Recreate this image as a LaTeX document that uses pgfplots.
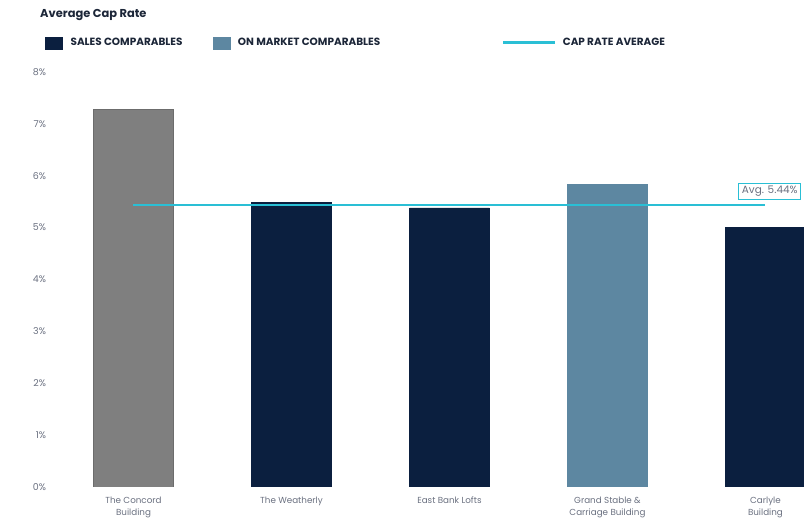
\documentclass[border=0pt]{standalone}
\usepackage{pgfplots}
\pgfplotsset{compat=1.18}
\usepackage{fontspec}
\setmainfont{Poppins}
\definecolor{navy}{HTML}{0B1F3F}
\definecolor{steel}{HTML}{5D87A1}
\definecolor{gbar}{HTML}{7F7F7F}
\definecolor{cyanl}{HTML}{2ABFD5}
\definecolor{ttl}{HTML}{1C2638}
\definecolor{tick}{HTML}{6A7080}
\begin{document}
\begin{tikzpicture}
\useasboundingbox (0,0) rectangle (804bp,523bp);
\node[anchor=west, inner sep=0pt, font=\fontsize{11.5}{13}\selectfont\bfseries, text=ttl] at (40bp,507.5bp) {Average Cap Rate};
\begin{axis}[
  at={(54.5bp,36bp)}, anchor=south west,
  scale only axis, width=749.5bp, height=415bp,
  xmin=-0.5, xmax=4.244, ymin=0, ymax=8,
  axis line style={draw=none},
  major tick length=0pt,
  ytick={0,1,...,8},
  yticklabel={\pgfmathprintnumber{\tick}\%},
  /pgf/number format/assume math mode=true,
  yticklabel style={font=\fontsize{9.5}{10}\selectfont, text=tick, xshift=-5bp},
  xtick={0,1,2,3,4},
  xticklabels={{The Concord\\Building},{The Weatherly},{East Bank Lofts},{Grand Stable \&\\Carriage Building},{Carlyle\\Building}},
  xticklabel style={font=\fontsize{8.8}{13}\selectfont, text=tick, align=center, yshift=-6bp},
  legend columns=3,
  legend style={draw=none, fill=none, at={(-0.0127,1.0705)}, anchor=west,
    font=\fontsize{10.5}{12}\selectfont\bfseries, text=ttl, inner sep=0pt,
    nodes={inner sep=0pt},
    /tikz/every odd column/.append style={column sep=8bp},
    /tikz/column 2/.append style={column sep=30bp},
    /tikz/column 4/.append style={column sep=123bp}},
  legend cell align=left,
]
\addplot[ybar, bar width=0.506, fill=gbar, draw=gbar!85!black, forget plot] coordinates {(0,7.28)};
\addplot[ybar, bar width=0.506, fill=navy, draw=navy,
  legend image code/.code={\fill[navy] (0bp,-6bp) rectangle (17bp,6bp);}]
  coordinates {(1,5.49) (2,5.38) (4,5.0)};
\addlegendentry{SALES COMPARABLES}
\addplot[ybar, bar width=0.506, fill=steel, draw=steel,
  legend image code/.code={\fill[steel] (0bp,-6bp) rectangle (17bp,6bp);}]
  coordinates {(3,5.84)};
\addlegendentry{ON MARKET COMPARABLES}
\addplot[cyanl, line width=1.5pt, mark=none,
  legend image code/.code={\fill[cyanl] (0bp,-1bp) rectangle (50bp,1bp);}]
  coordinates {(0,5.44) (4,5.44)};
\addlegendentry{CAP RATE AVERAGE}
\node[anchor=south west, draw=cyanl, line width=0.8pt, fill=white, inner sep=3pt,
  font=\fontsize{10.5}{12}\selectfont, text=tick, xshift=-27bp, yshift=5bp] at (axis cs:4,5.44) {Avg. 5.44\%};
\end{axis}
\end{tikzpicture}
\end{document}
